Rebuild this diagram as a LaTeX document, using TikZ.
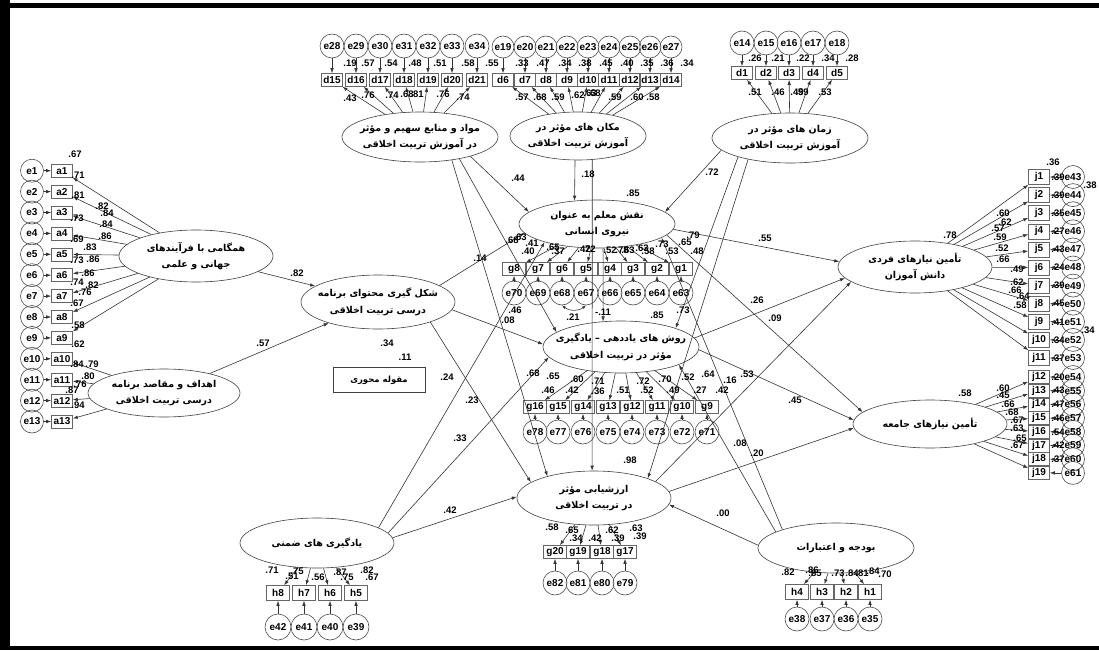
\documentclass[tikz,border=0pt]{standalone}
\usepackage{fontspec}
\setmainfont{Liberation Sans}
\newfontfamily\fa[Script=Arabic]{DejaVu Sans}
\TeXXeTstate=1
\usetikzlibrary{shapes.geometric,arrows.meta}
\begin{document}
\begin{tikzpicture}[x=1pt,y=-1pt,
 lat/.style={draw=black!75, ellipse, inner xsep=-14pt, inner ysep=-3pt, minimum width=156pt, minimum height=50pt, font=\fa\bfseries\fontsize{9.5}{16.5}\selectfont, align=center, line width=0.6pt},
 obs/.style={draw=black!60, rectangle, inner sep=0pt, minimum width=21pt, minimum height=13pt, font=\fontsize{10}{10}\selectfont\bfseries, line width=0.6pt},
 err/.style={draw=black!70, circle, inner sep=0pt, minimum size=24pt, font=\fontsize{10}{10}\selectfont\bfseries, line width=0.6pt},
 arr/.style={draw=black!80, -{Latex[length=5pt,width=3.5pt]}, line width=0.6pt},
 lab/.style={inner sep=0pt, font=\fontsize{9.5}{10}\selectfont\bfseries},
 box/.style={draw=black!75, rectangle, inner sep=0pt, minimum width=92pt, minimum height=25pt, font=\fa\bfseries\fontsize{8.5}{10}\selectfont, line width=0.6pt}]
\useasboundingbox (0,0) rectangle (1099,650);
\fill[black] (0,0) rectangle (10,650);
\fill[black] (0,3) rectangle (1099,8);
\fill[black] (0,646) rectangle (1099,650);

% latent variables
\node[lat] (M1) at (420,137) {\beginR مواد و منابع سهیم و مؤثر\endR\\\beginR در آموزش تربیت اخلاقی\endR};
\node[lat, minimum width=136pt, minimum height=48pt] (M2) at (578,136) {\beginR مکان های مؤثر در\endR\\\beginR آموزش تربیت اخلاقی\endR};
\node[lat] (M3) at (790,138) {\beginR زمان های مؤثر در\endR\\\beginR آموزش تربیت اخلاقی\endR};
\node[lat, minimum width=154pt, minimum height=52pt] (L1) at (196,256) {\beginR همگامی با فرآیندهای\endR\\\beginR جهانی و علمی\endR};
\node[lat, minimum width=152pt, minimum height=48pt] (L2) at (164,393) {\beginR اهداف و مقاصد برنامه\endR\\\beginR درسی تربیت اخلاقی\endR};
\node[lat, minimum width=154pt, minimum height=54pt] (C1) at (378,302) {\beginR شکل گیری محتوای برنامه\endR\\\beginR درسی تربیت اخلاقی\endR};
\node[box] (K) at (379,380) {\beginR مقوله محوری\endR};
\node[lat, minimum height=48pt] (N) at (597,224) {\beginR نقش معلم به عنوان\endR\\\beginR نیروی انسانی\endR};
\node[lat, minimum height=52pt] (R) at (621,347) {\beginR روش های یاددهی – یادگیری\endR\\\beginR مؤثر در تربیت اخلاقی\endR};
\node[lat, minimum width=154pt, minimum height=54pt] (V) at (594,498) {\beginR ارزشیابی مؤثر\endR\\\beginR در تربیت اخلاقی\endR};
\node[lat, minimum width=154pt] (Y) at (317,543) {\beginR یادگیری های ضمنی\endR};
\node[lat] (B) at (836,548) {\beginR بودجه و اعتبارات\endR};
\node[lat, minimum width=154pt, minimum height=52pt] (F) at (915,267) {\beginR تأمین نیازهای فردی\endR\\\beginR دانش آموزان\endR};
\node[lat, minimum width=154pt, minimum height=48pt] (S) at (930,424) {\beginR تأمین نیازهای جامعه\endR};

% top-left group
\foreach \x/\n/\e in {332/15/28,356/16/29,380/17/30,404/18/31,428/19/32,452/20/33,477/21/34}{
  \node[obs] (d\n) at (\x,80) {d\n};
  \node[err] (e\e) at (\x,46) {e\e};
  \draw[arr] (e\e) -- (d\n);
  \draw[arr] (M1) -- (d\n);
}
\foreach \x/\n/\e in {503/6/19,525/7/20,546/8/21,567/9/22,588/10/23,609/11/24,630/12/25,650/13/26,671/14/27}{
  \node[obs] (d\n) at (\x,80) {d\n};
  \node[err, minimum size=22pt] (e\e) at (\x,47) {e\e};
  \draw[arr] (e\e) -- (d\n);
  \draw[arr] (M2) -- (d\n);
}
\foreach \x/\n/\e in {742/1/14,766/2/15,789/3/16,813/4/17,837/5/18}{
  \node[obs] (d\n) at (\x,73) {d\n};
  \node[err] (e\e) at (\x,43) {e\e};
  \draw[arr] (e\e) -- (d\n);
  \draw[arr] (M3) -- (d\n);
}
% left group
\foreach \i in {1,...,13}{
  \pgfmathsetmacro\yy{170.7+20.9*(\i-1)}
  \node[obs] (a\i) at (62,\yy) {a\i};
  \node[err, minimum size=23pt] (e\i) at (32,\yy) {e\i};
  \draw[arr] (e\i) -- (a\i);
}
\foreach \i in {1,...,9}{\draw[arr] (L1) -- (a\i);}
\foreach \i in {10,...,13}{\draw[arr] (L2) -- (a\i);}
% g groups
\foreach \x/\n/\e in {514/8/70,538/7/69,562/6/68,586/5/67,610/4/66,633/3/65,657/2/64,681/1/63}{
  \node[obs, minimum width=23pt] (g\n) at (\x,269) {g\n};
  \node[err] (e\e) at (\x,293) {e\e};
  \draw[arr] (e\e) -- (g\n);
  \draw[arr] (N) -- (g\n);
}
\foreach \x/\n/\e in {535/16/78,558/15/77,583/14/76,608/13/75,632/12/74,657/11/73,682/10/72,707/9/71}{
  \node[obs, minimum width=23pt] (g\n) at (\x,407) {g\n};
  \node[err] (e\e) at (\x,432) {e\e};
  \draw[arr] (e\e) -- (g\n);
  \draw[arr] (R) -- (g\n);
}
\foreach \x/\n/\e in {555/20/82,578/19/81,602/18/80,625/17/79}{
  \node[obs, minimum width=23pt] (g\n) at (\x,552) {g\n};
  \node[err] (e\e) at (\x,583) {e\e};
  \draw[arr] (e\e) -- (g\n);
  \draw[arr] (V) -- (g\n);
}
% h groups
\foreach \x/\n/\e in {278/8/42,304/7/41,330/6/40,356/5/39}{
  \node[obs, minimum width=23pt, minimum height=15pt] (h\n) at (\x,593) {h\n};
  \node[err, minimum size=26pt] (e\e) at (\x,627) {e\e};
  \draw[arr] (e\e) -- (h\n);
  \draw[arr] (Y) -- (h\n);
}
\foreach \x/\n/\e in {797/4/38,822/3/37,846/2/36,870/1/35}{
  \node[obs, minimum width=23pt, minimum height=15pt] (h\n) at (\x,592) {h\n};
  \node[err] (e\e) at (\x,619) {e\e};
  \draw[arr] (e\e) -- (h\n);
  \draw[arr] (B) -- (h\n);
}
% j groups
\foreach \i/\e in {1/43,2/44,3/45,4/46,5/47,6/48,7/49,8/50,9/51,10/52,11/53}{
  \pgfmathsetmacro\yy{177+18.1*(\i-1)}
  \node[obs, minimum height=15pt] (j\i) at (1039,\yy) {j\i};
  \node[err, minimum size=23pt] (e\e) at (1073,\yy) {e\e};
  \draw[arr] (e\e) -- (j\i);
  \draw[arr] (F) -- (j\i);
}
\foreach \i/\e in {12/54,13/55,14/56,15/57,16/58,17/59,18/60,19/61}{
  \pgfmathsetmacro\yy{377+13.7*(\i-12)}
  \node[obs, minimum height=13pt] (j\i) at (1039,\yy) {j\i};
  \node[err, minimum size=23pt] (e\e) at (1073,\yy) {e\e};
  \draw[arr] (e\e) -- (j\i);
  \draw[arr] (S) -- (j\i);
}

% structural paths
\draw[arr] (L1) -- (C1);
\draw[arr] (L2) -- (C1);
\draw[arr] (M1.-21) -- (N.170);
\draw[arr] (M1.-29) -- (R.167);
\draw[arr] (M1.-36) -- (V.155);
\draw[arr] (M2.263) -- (N.134);
\draw[arr] (M2.301) -- (V.94);
\draw[arr] (M3.190) -- (N.10);
\draw[arr] (M3.200) -- (R.19);
\draw[arr] (M3.207) -- (V.20);
\draw[arr] (C1.15) -- (N.187);
\draw[arr] (C1.-6) -- (R.178);
\draw[arr] (C1.-21) -- (V.166);
\draw[arr] (Y.14) -- (N.199);
\draw[arr] (Y.8) -- (R.188);
\draw[arr] (Y.4) -- (V.179);
\draw[arr] (N.284) -- (R.125);
\draw[arr] (N.-4) -- (F.176);
\draw[arr] (N.-9) -- (S.170);
\draw[arr] (R.7) -- (F.189);
\draw[arr] (R.-2) -- (S.177);
\draw[arr] (V.15) -- (F.193);
\draw[arr] (V.5) -- (S.183);
\draw[arr] (B.178) -- (V.-5);
\draw[arr] (B.165) -- (R.343);
\draw[arr] (B.161) -- (N.-12);
\draw[draw=black!80, {Latex[length=4pt,width=3pt]}-{Latex[length=4pt,width=3pt]}, line width=0.6pt] (e68.south) to[bend right=40] (e67.south);

% labels
\foreach \x/\y/\t in {
 350/63/.19,368/63/.57,391/63/.54,415/63/.48,440/63/.51,468/63/.58,492/63/.55,
 350/98/.43,368/95/.76,392/95/.74,407/94/.68,417/94/.81,443/94/.76,463/97/.74,
 522/63/.33,543/63/.47,565/63/.34,585/63/.38,606/63/.45,627/63/.40,647/63/.35,667/63/.36,687/63/.34,
 522/97/.57,540/97/.68,558/97/.59,578/95/.62,590/93/.63,594/93/.68,615/97/.59,637/97/.60,653/97/.58,
 755/58/.26,778/58/.21,803/58/.22,828/58/.34,852/58/.28,
 755/92/.51,778/92/.46,797/92/.49,802/92/.59,825/92/.53,
 75/154/.67,78/175/.71,78/195/.81,102/206/.82,107/213/.84,77/218/.73,106/224/.84,77/239/.69,105/236/.86,90/247/.83,77/260/.73,93/259/.86,88/273/.86,77/282/.74,92/285/.82,85/292/.76,77/303/.67,78/325/.58,78/344/.62,77/364/.84,92/364/.79,88/376/.80,80/384/.76,72/390/.87,78/405/.94,
 512/240/.68,520/237/.63,532/243/.41,528/251/.40,553/247/.65,558/251/.37,584/249/.42,589/249/.72,610/250/.52,622/250/.78,628/250/.63,642/248/.63,648/251/.58,662/244/.73,672/251/.53,685/242/.65,693/235/.79,697/251/.48,
 533/373/.68,553/376/.65,548/390/.46,577/379/.60,572/390/.42,598/381/.71,598/391/.36,623/390/.51,643/381/.72,647/390/.52,665/379/.70,673/390/.49,688/377/.52,700/390/.27,708/374/.64,730/380/.16,722/390/.42,747/374/.53,
 552/527/.58,572/530/.65,576/538/.34,595/538/.42,612/530/.62,618/538/.39,636/528/.63,640/536/.39,
 272/570/.71,297/571/.75,292/576/.51,318/577/.56,340/572/.87,347/577/.75,367/570/.82,372/577/.67,
 788/572/.82,812/570/.86,815/573/.85,838/573/.73,852/573/.84,862/573/.81,873/571/.84,885/574/.70,
 1003/213/.60,1005/222/.62,998/228/.57,1000/237/.59,1002/248/.52,1003/259/.66,1017/269/.49,1017/282/.62,1015/290/.66,1023/296/.64,1020/305/.58,
 1003/388/.60,1003/395/.45,1008/404/.66,1012/412/.68,1017/420/.67,1017/428/.63,1020/438/.65,1017/445/.67,
 1053/162/.36,1090/185/.38,1088/330/.34,
 297/273/.82,263/343/.57,518/178/.44,588/174/.18,712/172/.72,480/258/.14,515/310/.46,508/320/.08,447/377/.24,460/438/.33,450/510/.42,573/317/.21,603/312/-.11,657/315/.85,683/310/.73,633/193/.85,630/460/.98,740/443/.08,757/453/.20,723/513/.00,950/235/.78,965/393/.58,387/343/.34,405/357/.11,765/238/.55,757/300/.26,775/318/.09,795/400/.45,472/400/.23}{
 \node[lab] at (\x,\y) {\t};
}
\foreach \i/\t in {1/.39,2/.39,3/.35,4/.27,5/.43,6/.24,7/.39,8/.45,9/.41,10/.34,11/.37}{
 \pgfmathsetmacro\yy{177+18.1*(\i-1)}
 \node[lab] at (1058,\yy) {\t};
}
\foreach \i/\t in {12/.20,13/.43,14/.47,15/.46,16/.54,17/.42,18/.37}{
 \pgfmathsetmacro\yy{377+13.7*(\i-12)}
 \node[lab] at (1058,\yy) {\t};
}
\end{tikzpicture}
\end{document}
